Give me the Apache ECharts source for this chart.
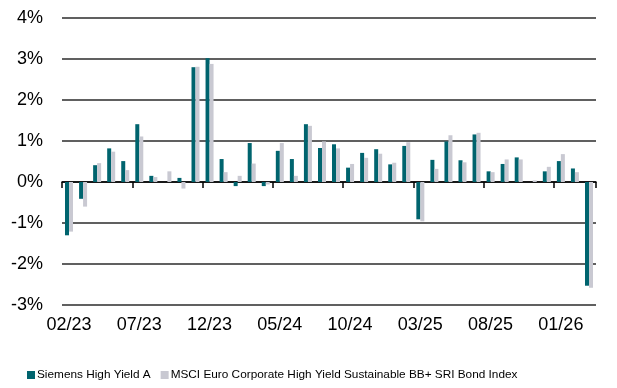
<!DOCTYPE html>
<html>
<head>
<meta charset="utf-8">
<script src="https://cdn.jsdelivr.net/npm/echarts@6/dist/echarts.min.js"></script>
<style>
  html, body { margin: 0; padding: 0; background: #fff; }
  #chart { width: 617px; height: 388px; }
</style>
</head>
<body>
<div id="chart"></div>
<script>
// Monthly returns in percent, 02/23 to 03/26
const months = [
  '02/23','03/23','04/23','05/23','06/23','07/23','08/23','09/23','10/23','11/23',
  '12/23','01/24','02/24','03/24','04/24','05/24','06/24','07/24','08/24','09/24',
  '10/24','11/24','12/24','01/25','02/25','03/25','04/25','05/25','06/25','07/25',
  '08/25','09/25','10/25','11/25','12/25','01/26','02/26','03/26'
];
const fundReturns = [
  -1.30, -0.41, 0.41, 0.82, 0.51, 1.41, 0.15, 0.00, 0.10, 2.80,
  3.02, 0.56, -0.10, 0.95, -0.10, 0.76, 0.56, 1.41, 0.83, 0.92,
  0.35, 0.71, 0.80, 0.43, 0.88, -0.91, 0.54, 0.99, 0.53, 1.16,
  0.26, 0.44, 0.60, 0.00, 0.26, 0.51, 0.33, -2.53
];
const indexReturns = [
  -1.21, -0.60, 0.46, 0.74, 0.29, 1.11, 0.12, 0.26, -0.16, 2.81,
  2.88, 0.24, 0.15, 0.45, -0.06, 0.95, 0.15, 1.37, 0.99, 0.82,
  0.44, 0.59, 0.69, 0.47, 0.97, -0.96, 0.32, 1.14, 0.48, 1.20,
  0.24, 0.55, 0.55, 0.04, 0.37, 0.68, 0.24, -2.58
];
const seriesNames = ['Siemens High Yield A', 'MSCI Euro Corporate High Yield Sustainable BB+ SRI Bond Index'];

const chart = echarts.init(document.getElementById('chart'), null, { renderer: 'canvas' });
const axisFont = { fontFamily: 'Liberation Sans, Arial, sans-serif', fontSize: 18, color: '#000' };

chart.setOption({
  animation: false,
  color: ['#00646E', '#C9C9D2'],
  grid: { left: 62, right: 21, top: 18, bottom: 83 },
  legend: {
    left: 22,
    top: 364,
    itemWidth: 8,
    itemHeight: 8,
    itemGap: 10,
    icon: 'rect',
    textStyle: { fontFamily: 'Liberation Sans, Arial, sans-serif', fontSize: 11.8, color: '#000', padding: [0, 0, 0, -3] },
    data: seriesNames
  },
  xAxis: [
    {
      // month labels under the plot
      type: 'category',
      data: months,
      position: 'bottom',
      axisLine: { show: false, onZero: false },
      axisTick: { show: false },
      axisLabel: { ...axisFont, interval: 4, margin: 11 }
    },
    {
      // baseline at 0% with a tick every five months
      type: 'category',
      data: months,
      position: 'top',
      axisLine: { show: true, onZero: true, lineStyle: { color: '#000', width: 1.5 } },
      axisTick: { show: true, interval: 4, inside: true, length: 6, lineStyle: { color: '#000', width: 1.5 } },
      axisLabel: { show: false }
    }
  ],
  yAxis: {
    type: 'value',
    min: -3,
    max: 4,
    interval: 1,
    axisLine: { show: false },
    axisTick: { show: false },
    axisLabel: { ...axisFont, margin: 19, formatter: v => v + '%' },
    splitLine: { lineStyle: { color: '#2b2b2b', width: 1.5 } }
  },
  series: [
    { name: seriesNames[0], type: 'bar', xAxisIndex: 0, data: fundReturns, barWidth: 4, barGap: '0%' },
    { name: seriesNames[1], type: 'bar', xAxisIndex: 0, data: indexReturns, barWidth: 4, barGap: '0%' }
  ]
});
</script>
</body>
</html>
